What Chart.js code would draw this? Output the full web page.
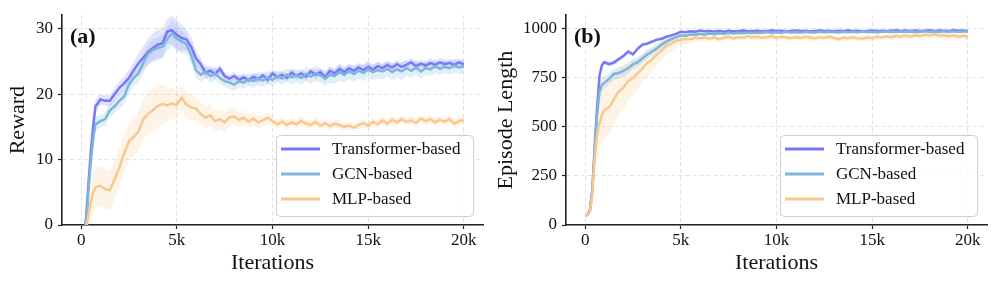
<!DOCTYPE html>
<html lang="en">
<head>
<meta charset="UTF-8">
<title>Reward and Episode Length</title>
<style>
  body { margin: 0; background: #fff; }
  #wrap { position: relative; width: 996px; height: 285px; }
  canvas { position: absolute; top: 0; }
  #reward-chart { left: 0; }
  #length-chart { left: 488px; }
</style>
</head>
<body>
<div id="wrap">
  <canvas id="reward-chart" width="488" height="285"></canvas>
  <canvas id="length-chart" width="508" height="285"></canvas>
</div>
<script src="https://cdn.jsdelivr.net/npm/chart.js@4"></script>
<script>
// x positions (training iterations)
const iterations = [
  0, 125, 250, 375, 500, 625, 750, 875,
  1000, 1250, 1500, 1750,
  2000, 2250, 2500, 2750,
  3000, 3250, 3500, 3750,
  4000, 4250, 4500, 4750,
  5000, 5250, 5500, 5750,
  6000, 6250, 6500, 6750,
  7000, 7250, 7500, 7750,
  8000, 8250, 8500, 8750,
  9000, 9250, 9500, 9750,
  10000, 10250, 10500, 10750,
  11000, 11250, 11500, 11750,
  12000, 12250, 12500, 12750,
  13000, 13250, 13500, 13750,
  14000, 14250, 14500, 14750,
  15000, 15250, 15500, 15750,
  16000, 16250, 16500, 16750,
  17000, 17250, 17500, 17750,
  18000, 18250, 18500, 18750,
  19000, 19250, 19500, 19750,
  20000
];

const seriesNames = ['Transformer-based', 'GCN-based', 'MLP-based'];
const xTicks = [0, 5000, 10000, 15000, 20000];
const rewardTicks = [0, 10, 20, 30];
const lengthTicks = [0, 250, 500, 750, 1000];

// (a) reward, mean curves
const rewardTransformer = [
  -4, -2, 0.8, 6, 11, 15, 18.2, 18.6,
  19.2, 19.0, 19.0, 20.0,
  21.0, 21.7, 22.5, 23.7,
  24.8, 25.6, 26.5, 27.1,
  27.6, 27.8, 29.6, 29.8,
  29.1, 28.6, 28.4, 27.3,
  25.5, 24.6, 23.3, 23.6,
  23.1, 23.9, 22.8, 22.4,
  22.8, 22.2, 22.6, 22.1,
  22.7, 22.3, 22.9, 22.2,
  23.2, 22.6, 23.0, 22.5,
  23.3, 22.8, 23.2, 22.7,
  23.5, 23.0, 23.4, 22.6,
  23.6, 23.2, 23.9, 23.4,
  24.0, 23.6, 24.1, 23.7,
  24.2, 23.8, 24.3, 24.0,
  24.5, 24.1, 24.6, 24.2,
  24.5, 24.9, 24.3, 24.7,
  24.4, 24.8, 24.5, 24.9,
  24.6, 24.8, 24.5, 24.9,
  24.6
];
const rewardGCN = [
  -4, -2, -0.5, 5, 9.5, 13, 15.5, 15.6,
  15.9, 16.2, 17.5, 18.2,
  19.0, 19.7, 21.5, 22.5,
  23.2, 24.8, 26.2, 26.8,
  27.1, 27.3, 28.5, 29.3,
  28.5, 28.1, 27.7, 26.0,
  23.7, 23.0, 23.4, 22.8,
  23.2, 22.5, 22.0, 21.8,
  21.5, 22.0, 21.8, 22.3,
  22.0, 22.4, 22.1, 22.6,
  22.2, 22.8, 22.4, 23.0,
  22.6, 22.9, 22.5, 23.1,
  22.7, 23.2, 22.9, 22.4,
  23.0, 22.8, 23.4, 23.0,
  23.5, 23.1, 23.6, 23.3,
  23.8, 23.4, 23.7, 23.5,
  23.9, 23.4, 23.8, 23.5,
  24.0, 23.6, 24.1, 23.5,
  24.0, 23.8, 24.3, 23.9,
  24.2, 24.0, 24.4, 24.1,
  24.3
];
const rewardMLP = [
  -4, -2.5, -0.5, 1.5, 3.5, 5.0, 5.7, 5.9,
  6.0, 5.5, 5.3, 7.0,
  8.8, 11.0, 12.8, 13.5,
  14.3, 16.2, 17.0, 17.6,
  18.2, 18.5, 18.3, 18.6,
  18.4, 19.5, 18.4, 18.0,
  17.8, 17.0, 16.4, 16.8,
  15.9, 16.2, 15.7, 16.5,
  16.6, 16.1, 16.4, 15.8,
  16.3, 15.7, 16.0, 16.4,
  15.9, 15.4, 15.8, 15.3,
  15.7, 15.4, 15.9, 15.5,
  15.3, 15.8, 15.2, 15.6,
  15.1, 15.5, 15.3, 15.0,
  15.2, 14.9, 15.3, 15.6,
  15.2, 15.8, 15.4, 16.0,
  15.5, 16.1, 15.7, 16.2,
  15.8, 16.0, 15.6, 16.3,
  15.9, 16.2, 15.7, 16.1,
  15.8, 16.2, 15.5, 15.9,
  16.1
];

// (a) reward, spread (std) for the shaded bands
const rewardStdTransformer = [
  0, 0, 0.5, 1.0, 1.2, 1.2, 1.0, 1.0,
  0.8, 0.8, 0.9, 1.0,
  1.0, 1.1, 1.2, 1.3,
  1.5, 1.8, 2.0, 2.2,
  2.3, 2.2, 2.0, 2.2,
  2.3, 2.0, 1.6, 1.5,
  1.3, 1.0, 0.9, 0.8,
  0.8, 0.7, 0.7, 0.6,
  0.7, 0.6, 0.7, 0.6,
  0.6, 0.7, 0.6, 0.7,
  0.6, 0.7, 0.6, 0.6,
  0.7, 0.6, 0.7, 0.6,
  0.6, 0.7, 0.6, 0.7,
  0.7, 0.6, 0.7, 0.6,
  0.6, 0.7, 0.6, 0.7,
  0.7, 0.6, 0.7, 0.6,
  0.6, 0.7, 0.6, 0.7,
  0.7, 0.6, 0.7, 0.6,
  0.6, 0.7, 0.6, 0.7,
  0.7, 0.6, 0.7, 0.6,
  0.6
];
const rewardStdGCN = [
  0, 0, 0.5, 1.5, 1.8, 1.5, 1.2, 1.0,
  1.0, 1.0, 1.1, 1.1,
  1.2, 1.2, 1.3, 1.3,
  1.4, 1.5, 1.5, 1.6,
  1.6, 1.8, 1.8, 2.0,
  2.0, 1.8, 1.6, 1.4,
  1.2, 1.1, 1.0, 1.0,
  1.0, 0.9, 0.9, 1.0,
  1.0, 1.0, 0.9, 1.0,
  1.0, 1.1, 1.0, 1.0,
  1.0, 0.9, 1.0, 1.0,
  1.1, 1.0, 1.0, 1.1,
  1.1, 1.2, 1.1, 1.2,
  1.2, 1.2, 1.3, 1.2,
  1.2, 1.3, 1.2, 1.3,
  1.3, 1.2, 1.3, 1.2,
  1.2, 1.3, 1.2, 1.3,
  1.2, 1.1, 1.2, 1.1,
  1.1, 1.0, 1.1, 1.0,
  1.0, 1.0, 1.1, 1.0,
  1.0
];
const rewardStdMLP = [
  0, 0, 1.0, 2.0, 2.5, 3.0, 3.0, 3.0,
  3.0, 3.0, 3.0, 3.0,
  3.0, 3.0, 3.0, 3.0,
  3.0, 3.0, 3.2, 3.3,
  3.3, 3.0, 2.7, 2.4,
  2.2, 2.0, 2.0, 2.0,
  1.8, 1.8, 1.7, 1.7,
  1.6, 1.5, 1.5, 1.4,
  1.3, 1.2, 1.1, 1.0,
  1.0, 0.9, 0.9, 0.8,
  0.8, 0.7, 0.7, 0.7,
  0.7, 0.6, 0.7, 0.6,
  0.6, 0.7, 0.6, 0.6,
  0.6, 0.6, 0.7, 0.6,
  0.6, 0.6, 0.6, 0.7,
  0.6, 0.6, 0.6, 0.6,
  0.6, 0.7, 0.6, 0.6,
  0.6, 0.6, 0.7, 0.6,
  0.6, 0.6, 0.6, 0.6,
  0.6, 0.7, 0.6, 0.6,
  0.6
];

// (b) episode length, mean curves
const lengthTransformer = [
  48, 52, 75, 180, 400, 600, 760, 815,
  830, 820, 828, 845,
  862, 885, 870, 900,
  920, 925, 935, 945,
  950, 960, 967, 975,
  985, 983, 988, 986,
  992, 988, 990, 987,
  990, 986, 991, 988,
  989, 992, 988, 990,
  991, 988, 990, 992,
  989, 991, 988, 990,
  992, 989, 991, 988,
  990, 992, 989, 991,
  988, 991, 990, 992,
  989, 991, 988, 990,
  992, 990, 991, 989,
  991, 993, 990, 992,
  990, 992, 989, 991,
  993, 990, 992, 991,
  990, 993, 991, 992,
  990
];
const lengthGCN = [
  48, 52, 72, 170, 380, 560, 680, 715,
  725, 745, 770, 775,
  786, 800, 819, 830,
  850, 870, 885, 900,
  920, 935, 948, 958,
  967, 965, 972, 970,
  975, 972, 977, 974,
  978, 975, 980, 977,
  980, 978, 982, 979,
  982, 980, 984, 981,
  983, 980, 985, 982,
  984, 981, 985, 983,
  982, 985, 983, 986,
  984, 982, 986, 983,
  985, 983, 987, 984,
  986, 983, 985, 987,
  984, 987, 985, 986,
  987, 984, 986, 988,
  985, 987, 986, 988,
  986, 988, 985, 987,
  987
];
const lengthMLP = [
  48, 52, 65, 150, 340, 460, 520, 560,
  585, 600, 640, 680,
  700, 735, 750, 775,
  800, 827, 845, 869,
  890, 915, 925, 940,
  945, 950, 948, 955,
  952, 956, 950, 957,
  948, 955, 960, 952,
  958, 955, 962, 957,
  960, 955, 958, 962,
  955, 960, 957, 952,
  958, 954, 960, 956,
  952, 958, 955, 960,
  954, 948, 956, 952,
  958, 953, 950, 956,
  952, 960, 957, 962,
  958, 965, 960, 966,
  962, 968, 964, 970,
  966, 972, 965, 968,
  963, 967, 960, 965,
  960
];

// (b) episode length, spread (std)
const lengthStdTransformer = [
  0, 2, 10, 30, 40, 30, 20, 15,
  12, 12, 12, 12,
  10, 10, 10, 10,
  10, 10, 8, 8,
  8, 8, 6, 6,
  5, 5, 5, 5,
  5, 4, 5, 4,
  5, 4, 5, 4,
  5, 4, 5, 4,
  5, 4, 5, 4,
  5, 4, 5, 4,
  5, 4, 5, 4,
  5, 4, 5, 4,
  5, 4, 5, 4,
  5, 4, 5, 4,
  5, 4, 5, 4,
  5, 4, 5, 4,
  5, 4, 5, 4,
  5, 4, 5, 4,
  5, 4, 5, 4,
  5
];
const lengthStdGCN = [
  0, 2, 10, 30, 50, 50, 40, 35,
  30, 30, 30, 30,
  28, 28, 25, 25,
  22, 22, 20, 20,
  18, 16, 14, 12,
  10, 10, 9, 9,
  8, 8, 7, 8,
  8, 7, 8, 7,
  8, 7, 8, 7,
  8, 7, 8, 7,
  8, 7, 8, 7,
  8, 7, 8, 7,
  8, 7, 8, 7,
  8, 7, 8, 7,
  8, 7, 8, 7,
  8, 7, 8, 7,
  8, 7, 8, 7,
  8, 7, 8, 7,
  8, 7, 8, 7,
  8, 7, 8, 7,
  8
];
const lengthStdMLP = [
  0, 2, 10, 40, 80, 120, 140, 140,
  140, 140, 130, 120,
  110, 100, 90, 80,
  75, 70, 60, 55,
  50, 45, 40, 35,
  30, 25, 22, 20,
  18, 18, 16, 16,
  15, 14, 15, 14,
  15, 14, 15, 14,
  15, 14, 15, 14,
  15, 14, 15, 14,
  15, 14, 15, 14,
  15, 14, 15, 14,
  15, 14, 15, 14,
  15, 14, 15, 14,
  15, 14, 15, 14,
  15, 14, 15, 14,
  15, 14, 15, 14,
  15, 14, 15, 14,
  15, 14, 15, 14,
  15
];

const lineColors = ['#7878f8', '#7db5dc', '#f8c98e'];
const bandColors = ['rgba(120,120,248,0.2)', 'rgba(125,181,220,0.22)', 'rgba(248,201,142,0.22)'];
const serif = '"Liberation Serif", "Times New Roman", serif';

function points(ys) {
  return ys.map((y, i) => ({ x: iterations[i], y: y }));
}

function roundRect(ctx, x, y, w, h, r) {
  ctx.beginPath();
  ctx.moveTo(x + r, y);
  ctx.lineTo(x + w - r, y);
  ctx.arcTo(x + w, y, x + w, y + r, r);
  ctx.lineTo(x + w, y + h - r);
  ctx.arcTo(x + w, y + h, x + w - r, y + h, r);
  ctx.lineTo(x + r, y + h);
  ctx.arcTo(x, y + h, x, y + h - r, r);
  ctx.lineTo(x, y + r);
  ctx.arcTo(x, y, x + r, y, r);
  ctx.closePath();
}

// panel tag + framed legend in the lower right of the plot area
const decorations = {
  id: 'decorations',
  afterDraw(chart, args, opts) {
    const ctx = chart.ctx, area = chart.chartArea;
    ctx.save();
    ctx.font = 'bold 22px ' + serif;
    ctx.fillStyle = '#111';
    ctx.textBaseline = 'middle';
    ctx.textAlign = 'left';
    ctx.fillText(opts.tag, area.left + 8, area.top + 22);

    const w = 197, h = 81;
    const x = Math.round(area.right - 10 - w), y = Math.round(area.bottom - 9 - h);
    roundRect(ctx, x + 0.5, y + 0.5, w, h, 4);
    ctx.fillStyle = 'rgba(255,255,255,0.8)';
    ctx.fill();
    ctx.strokeStyle = '#d0d0d0';
    ctx.lineWidth = 1;
    ctx.stroke();

    ctx.font = '17px ' + serif;
    seriesNames.forEach((name, i) => {
      const ly = y + 14 + 25 * i;
      ctx.beginPath();
      ctx.moveTo(x + 5, ly);
      ctx.lineTo(x + 44, ly);
      ctx.strokeStyle = lineColors[i];
      ctx.lineWidth = 3;
      ctx.stroke();
      ctx.fillStyle = '#111';
      ctx.fillText(name, x + 56, ly + 1);
    });
    ctx.restore();
  }
};

function makeChart(id, means, stds, yMax, yTicks, yTitle, tag, yWidth, padRight) {
  const datasets = [];
  means.forEach((m, s) => {
    const sd = stds[s];
    const upper = m.map((v, i) => v + sd[i]);
    const lower = m.map((v, i) => v - sd[i]);
    datasets.push({
      data: points(upper), borderWidth: 0, pointRadius: 0, clip: 0,
      backgroundColor: bandColors[s], fill: '+1', order: 10 + s
    });
    datasets.push({
      data: points(lower), borderWidth: 0, pointRadius: 0, clip: 0,
      fill: false, order: 10 + s
    });
  });
  means.forEach((m, s) => {
    datasets.push({
      label: seriesNames[s], data: points(m), borderColor: lineColors[s],
      borderWidth: 2.5, pointRadius: 0, tension: 0, fill: false, clip: 0,
      order: 3 - s
    });
  });

  return new Chart(document.getElementById(id), {
    type: 'line',
    data: { datasets: datasets },
    options: {
      responsive: false,
      animation: false,
      devicePixelRatio: 1,
      layout: { padding: { left: 0, right: padRight, top: 8, bottom: 0 } },
      plugins: {
        legend: { display: false },
        tooltip: { enabled: false },
        decorations: { tag: tag }
      },
      scales: {
        x: {
          type: 'linear', min: -1000, max: 21000,
          afterBuildTicks: sc => { sc.ticks = xTicks.map(v => ({ value: v })); },
          afterFit: sc => { sc.height = 60; },
          ticks: {
            font: { family: serif, size: 17 }, color: '#111', padding: 1, maxRotation: 0,
            callback: v => v === 0 ? '0' : (v / 1000) + 'k'
          },
          grid: { color: '#e2e2e2', lineWidth: 1, tickColor: '#222', tickLength: 4, tickWidth: 1.2, tickBorderDash: [] },
          border: { display: true, color: '#222', width: 1.6, dash: [4, 3] },
          title: { display: true, text: 'Iterations', font: { family: serif, size: 22 }, color: '#111', padding: 9 }
        },
        y: {
          type: 'linear', min: 0, max: yMax,
          afterBuildTicks: sc => { sc.ticks = yTicks.map(v => ({ value: v })); },
          afterFit: sc => { sc.width = yWidth; },
          ticks: {
            font: { family: serif, size: 17 }, color: '#111', padding: 5,
            callback: v => String(v)
          },
          grid: { color: '#e2e2e2', lineWidth: 1, tickColor: '#222', tickLength: 4, tickWidth: 1.2, tickBorderDash: [] },
          border: { display: true, color: '#222', width: 1.6, dash: [4, 3] },
          title: { display: true, text: yTitle, font: { family: serif, size: 22 }, color: '#111', padding: 5 }
        }
      }
    },
    plugins: [decorations]
  });
}

makeChart('reward-chart',
  [rewardTransformer, rewardGCN, rewardMLP],
  [rewardStdTransformer, rewardStdGCN, rewardStdMLP],
  32.1, rewardTicks, 'Reward', '(a)', 62, 5);

makeChart('length-chart',
  [lengthTransformer, lengthGCN, lengthMLP],
  [lengthStdTransformer, lengthStdGCN, lengthStdMLP],
  1070, lengthTicks, 'Episode Length', '(b)', 78, 9);
</script>
</body>
</html>
